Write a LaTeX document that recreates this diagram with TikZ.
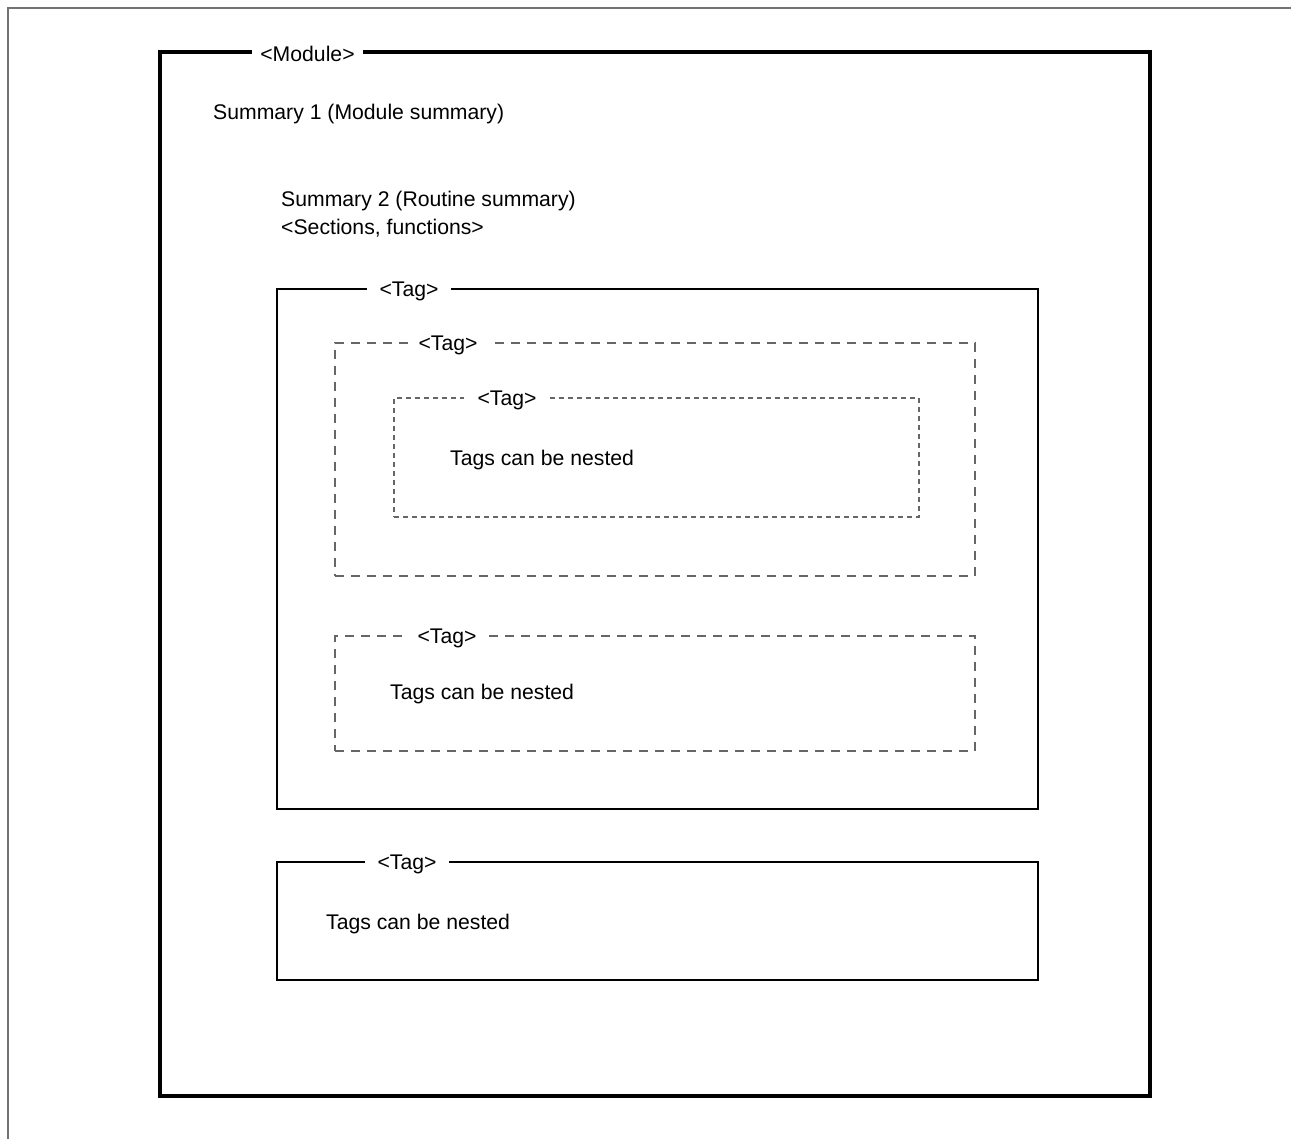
\documentclass[tikz,border=0pt]{standalone}
\usepackage{fontspec}
\setmainfont{Liberation Sans}
\begin{document}
\begin{tikzpicture}[x=1pt,y=-1pt,
  every node/.style={font=\fontsize{21.2}{25}\selectfont, inner sep=0pt},
  modbox/.style={draw=black, line width=3.2pt, rectangle},
  tagsolid/.style={draw=black, line width=1.5pt, rectangle},
  tagdash/.style={draw=black!60, line width=1.3pt, rectangle, dash pattern=on 9pt off 7pt},
  tagfine/.style={draw=black!60, line width=1.1pt, rectangle, dash pattern=on 5pt off 4pt},
  lbl/.style={fill=white, inner xsep=13pt, inner ysep=3pt, yshift=-2pt},
  txt/.style={anchor=west, yshift=-2.5pt}]
\useasboundingbox (0,0) rectangle (1291,1139);
\fill[white] (0,0) rectangle (1291,1139);
% partial outer frame
\coordinate (fr1) at (1291,8);
\coordinate (fr2) at (8,8);
\coordinate (fr3) at (8,1139);
\draw[black!55, line width=1.5pt] (fr1) -- (fr2) -- (fr3);
% module box
\node[modbox, minimum width=990pt, minimum height=1044pt] (mod) at (655,574) {};
\node[lbl, inner xsep=8pt] (modl) at (307.5,52) {<Module>};
\node[txt] (s1) at (213,112) {Summary 1 (Module summary)};
\node[txt] (s2) at (281,199) {Summary 2 (Routine summary)};
\node[txt] (s3) at (281,226) {<Sections, functions>};
% tag 1
\node[tagsolid, minimum width=761pt, minimum height=520pt] (t1) at (657.5,549) {};
\node[lbl] (t1l) at (409,289) {<Tag>};
% tag 2
\node[tagdash, minimum width=640pt, minimum height=233pt] (t2) at (655,459.5) {};
\node[lbl, inner xsep=11pt] (t2l) at (448,343) {<Tag>};
% tag 3
\node[tagfine, minimum width=525pt, minimum height=119pt] (t3) at (656.5,457.5) {};
\node[lbl, inner xsep=14pt] (t3l) at (507,398) {<Tag>};
\node[txt] (t3t) at (450,458) {Tags can be nested};
% tag 4
\node[tagdash, minimum width=640pt, minimum height=115pt] (t4) at (655,693.5) {};
\node[lbl, inner xsep=12pt] (t4l) at (447,636) {<Tag>};
\node[txt] (t4t) at (390,692) {Tags can be nested};
% tag 5
\node[tagsolid, minimum width=761pt, minimum height=118pt] (t5) at (657.5,921) {};
\node[lbl] (t5l) at (407,862) {<Tag>};
\node[txt] (t5t) at (326,922) {Tags can be nested};
\end{tikzpicture}
\end{document}
